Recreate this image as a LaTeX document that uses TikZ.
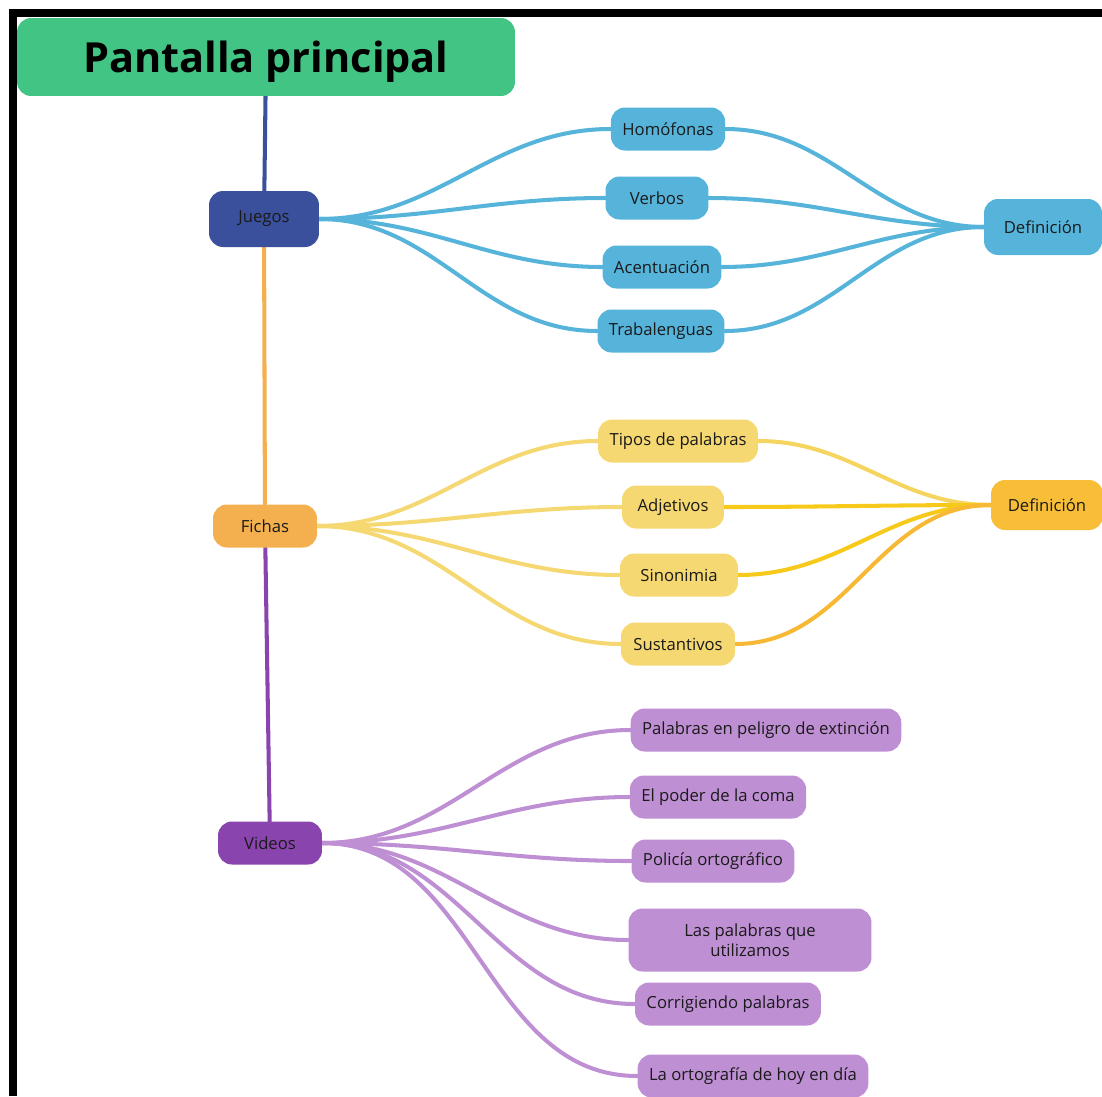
\documentclass[tikz,border=0pt]{standalone}
\usepackage{fontspec}
\setmainfont{Open Sans}
\usetikzlibrary{backgrounds}
\definecolor{verde}{HTML}{42C484}
\definecolor{azulosc}{HTML}{3A509C}
\definecolor{azul}{HTML}{56B4DB}
\definecolor{naranja}{HTML}{F4B04F}
\definecolor{amarillo}{HTML}{F5D872}
\definecolor{oro}{HTML}{F6C91A}
\definecolor{ambar}{HTML}{F7B935}
\definecolor{defamar}{HTML}{F9BE38}
\definecolor{morado}{HTML}{8A44AD}
\definecolor{lila}{HTML}{BF8FD4}
\definecolor{texto}{HTML}{1A1A1A}

\begin{document}
\begin{tikzpicture}[x=0.02cm,y=-0.02cm]
% Estilos
 \tikzstyle{caja}=[rectangle,rounded corners=0.28cm,text=texto,inner xsep=6.5pt,
      minimum height=0.86cm,font=\fontsize{9.5}{11.5}\selectfont,align=center]
 \tikzstyle{rama}=[line width=2.3pt,line cap=round]
 \tikzstyle{curva}=[rama,out=0,in=180]
% Marco
 \useasboundingbox (0,0) rectangle (1102,1096);
 \draw[line width=4pt] (13,1096) -- (13,13) -- (1102,13);
% Titulo
 \node[caja,fill=verde,minimum width=9.96cm,minimum height=1.56cm,text depth=0pt,
      font=\fontsize{23.6}{28}\selectfont\bfseries,text=black] (titulo) at (266,57) {Pantalla principal};
% Nodos principales
 \node[caja,fill=azulosc,minimum width=2.2cm,minimum height=1.12cm] (juegos) at (264,219) {Juegos};
 \node[caja,fill=naranja,minimum width=2.08cm] (fichas) at (265,526) {Fichas};
 \node[caja,fill=morado,minimum width=2.08cm] (videos) at (270,843) {Videos};
% Juegos
 \node[caja,fill=azul] (homo) at (668,129) {Homófonas};
 \node[caja,fill=azul,minimum width=2.06cm] (verbos) at (657,198) {Verbos};
 \node[caja,fill=azul] (acen) at (662,267) {Acentuación};
 \node[caja,fill=azul] (traba) at (661,331) {Trabalenguas};
 \node[caja,fill=azul,minimum width=2.36cm,minimum height=1.12cm] (defj) at (1043,227) {Definición};
% Fichas
 \node[caja,fill=amarillo] (tipos) at (678,441) {Tipos de palabras};
 \node[caja,fill=amarillo,minimum width=2.04cm] (adje) at (673,507) {Adjetivos};
 \node[caja,fill=amarillo,minimum width=2.36cm] (sino) at (679,575) {Sinonimia};
 \node[caja,fill=amarillo,minimum width=2.28cm] (sust) at (678,644) {Sustantivos};
 \node[caja,fill=defamar,minimum width=2.24cm,minimum height=1cm] (deff) at (1047,505) {Definición};
% Videos
 \node[caja,fill=lila] (peligro) at (766,730) {Palabras en peligro de extinción};
 \node[caja,fill=lila] (coma) at (718,797) {El poder de la coma};
 \node[caja,fill=lila] (policia) at (713,861) {Policía ortográfico};
 \node[caja,fill=lila,minimum width=4.86cm,minimum height=1.26cm] (utiliz) at (750,940) {Las palabras que\\utilizamos};
 \node[caja,fill=lila] (corrig) at (728,1004) {Corrigiendo palabras};
 \node[caja,fill=lila] (hoy) at (753,1076) {La ortografía de hoy en día};
% Conexiones
 \begin{scope}[on background layer]
 \draw[rama,azulosc] (titulo) -- (juegos);
 \draw[rama,naranja] (juegos) -- (fichas);
 \draw[rama,morado] (fichas) -- (videos);
 \foreach \h in {homo,verbos,acen,traba}{
   \draw[curva,azul] (juegos.east) to (\h.west);
   \draw[curva,azul] (\h.east) to (defj.west);
 }
 \foreach \h in {tipos,adje,sino,sust}
   \draw[curva,amarillo] (fichas.east) to (\h.west);
 \draw[curva,amarillo!80!oro] (tipos.east) to (deff.west);
 \draw[curva,oro] (adje.east) to (deff.west);
 \draw[curva,oro] (sino.east) to (deff.west);
 \draw[curva,ambar] (sust.east) to (deff.west);
 \foreach \h in {peligro,coma,policia,utiliz,corrig,hoy}
   \draw[curva,lila] (videos.east) to (\h.west);
 \end{scope}
\end{tikzpicture}
\end{document}
